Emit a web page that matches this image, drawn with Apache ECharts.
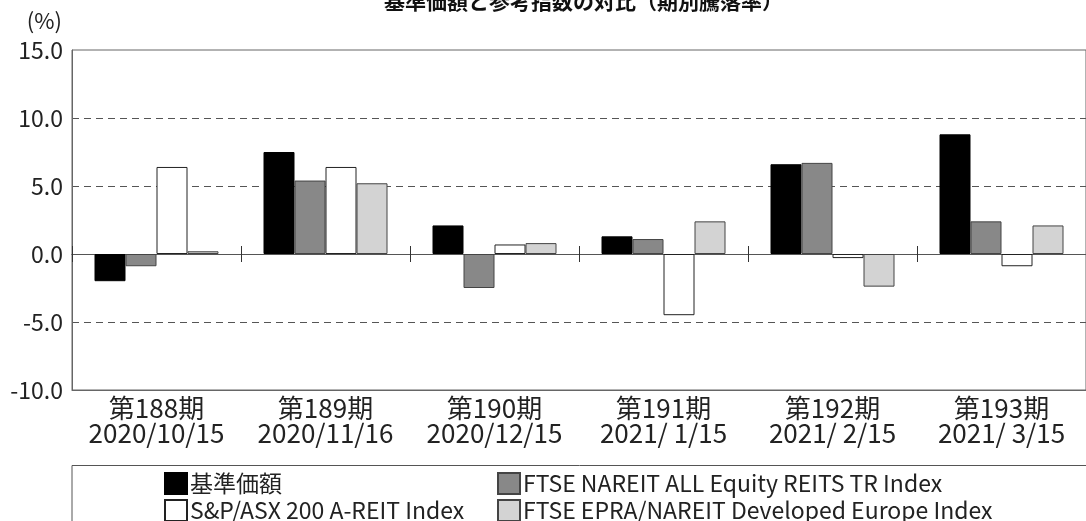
<!DOCTYPE html>
<html>
<head>
<meta charset="utf-8">
<script src="https://cdn.jsdelivr.net/npm/echarts@6/dist/echarts.min.js"></script>
<style>
  html, body { margin: 0; padding: 0; background: #fff; }
  #chart { width: 1086px; height: 521px; }
</style>
</head>
<body>
<div id="chart"></div>
<script>
// periods (x axis)
const periods = ['第188期\n2020/10/15', '第189期\n2020/11/16', '第190期\n2020/12/15',
  '第191期\n2021/ 1/15', '第192期\n2021/ 2/15', '第193期\n2021/ 3/15'];

// series names
const seriesNames = ['基準価額', 'FTSE NAREIT ALL Equity REITS TR Index',
  'S&P/ASX 200 A-REIT Index', 'FTSE EPRA/NAREIT Developed Europe Index'];

// values in %
const navValues = [-2.0, 7.5, 2.1, 1.3, 6.6, 8.8];
const nareitValues = [-0.9, 5.4, -2.5, 1.1, 6.7, 2.4];
const asxValues = [6.4, 6.4, 0.7, -4.5, -0.3, -0.9];
const europeValues = [0.2, 5.2, 0.8, 2.4, -2.4, 2.1];

const FONT = '"Noto Sans CJK JP", "Noto Sans", sans-serif';

const chart = echarts.init(document.getElementById('chart'));

const barStyle = (fill, border) => ({ color: fill, borderColor: border, borderWidth: 1 });

const legendBase = {
  orient: 'vertical',
  top: 472, height: 60,
  padding: 0,
  icon: 'rect',
  itemWidth: 22, itemHeight: 21, itemGap: 4,
  textStyle: { fontSize: 23, color: '#222', lineHeight: 21, padding: [0, 0, 0, -2] }
};

chart.setOption({
  animation: false,
  textStyle: { fontFamily: FONT },
  title: {
    text: '基準価額と参考指数の対比（期別騰落率）',
    left: 379,
    top: -14,
    textStyle: { fontSize: 21, fontWeight: 'bold', color: '#111', fontFamily: FONT }
  },
  legend: [
    Object.assign({}, legendBase, { data: [seriesNames[0], seriesNames[2]], left: 164 }),
    Object.assign({}, legendBase, { data: [seriesNames[1], seriesNames[3]], left: 497 })
  ],
  graphic: [{
    type: 'rect',
    shape: { x: 72, y: 465.5, width: 1100, height: 100 },
    style: { fill: 'none', stroke: '#555', lineWidth: 1 },
    silent: true
  }],
  grid: {
    left: 72, top: 50, width: 1021, height: 340,
    show: true, borderColor: '#666', borderWidth: 1, backgroundColor: 'transparent'
  },
  xAxis: [
    {
      type: 'category',
      data: periods,
      position: 'bottom',
      axisLine: { onZero: false, lineStyle: { color: '#666' } },
      axisTick: { show: false },
      axisLabel: { interval: 0, fontSize: 26, lineHeight: 25, color: '#222', margin: 6 }
    },
    {
      type: 'category',
      data: periods,
      position: 'bottom',
      axisLine: { onZero: true, onZeroAxisIndex: 0, lineStyle: { color: '#555' } },
      axisTick: { show: true, inside: false, length: 8, lineStyle: { color: '#333' } },
      axisLabel: { show: false }
    },
    {
      type: 'category',
      data: periods,
      position: 'bottom',
      axisLine: { onZero: true, onZeroAxisIndex: 1, lineStyle: { color: '#555' } },
      axisTick: { show: true, inside: true, length: 8, lineStyle: { color: '#333' } },
      axisLabel: { show: false }
    }
  ],
  yAxis: [
    {
      type: 'value',
      min: -10, max: 15, interval: 5,
      name: '(%)',
      nameLocation: 'end',
      nameGap: 18,
      nameTextStyle: { fontSize: 22, color: '#222', align: 'right', padding: [0, 10, 0, 0] },
      axisLine: { show: true, lineStyle: { color: '#666' } },
      axisTick: { show: false },
      axisLabel: { fontSize: 23, color: '#222', margin: 9, formatter: v => v.toFixed(1) },
      splitLine: {
        show: true, showMinLine: false, showMaxLine: false,
        lineStyle: { color: '#555', type: [7, 5], width: 1 }
      }
    },
    {
      type: 'value',
      min: -10, max: 15, interval: 5,
      show: false,
      splitLine: { show: false }
    }
  ],
  series: [
    { name: seriesNames[0], type: 'bar', data: navValues, barWidth: 31, barGap: '0%',
      itemStyle: barStyle('#000000', '#000000') },
    { name: seriesNames[1], type: 'bar', data: nareitValues, barWidth: 31, barGap: '0%',
      itemStyle: barStyle('#888888', '#444444') },
    { name: seriesNames[2], type: 'bar', data: asxValues, barWidth: 31, barGap: '0%',
      itemStyle: barStyle('#ffffff', '#222222') },
    { name: seriesNames[3], type: 'bar', data: europeValues, barWidth: 31, barGap: '0%',
      itemStyle: barStyle('#d3d3d3', '#444444') }
  ]
});
</script>
</body>
</html>
